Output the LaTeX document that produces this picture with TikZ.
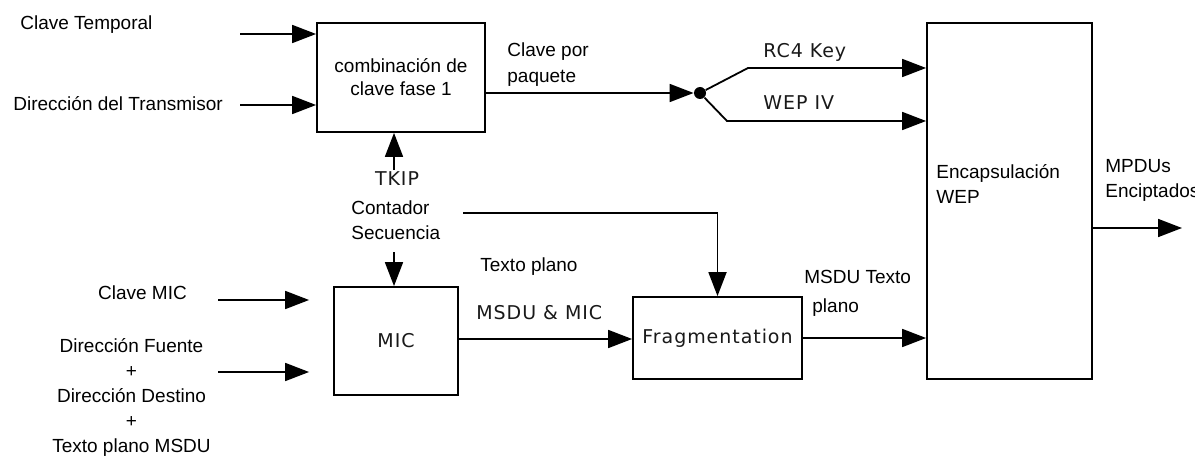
\documentclass[tikz,border=0pt]{standalone}
\usepackage{fontspec}
\setmainfont{Liberation Sans}
\newfontfamily\cajafont{DejaVu Sans}[LetterSpace=5]
\usetikzlibrary{arrows.meta}

\tikzset{
    flecha/.style={-{Triangle[length=12pt,width=9pt]}, line width=0.9pt},
    caja/.style={draw, line width=0.9pt, inner sep=0pt, align=center},
    rotulo/.style={inner sep=0pt, align=left, font=\fontsize{9.5}{12.5}\selectfont},
    rotulob/.style={inner sep=0pt, font=\fontsize{9.5}{12.5}\selectfont\cajafont, text=black!90}
}

\begin{document}
\begin{tikzpicture}[x=0.5pt, y=-0.5pt]
    \useasboundingbox (0,0) rectangle (1195,460);

    % Bloques
    \node[caja, minimum width=84pt, minimum height=54.5pt, font=\fontsize{9.5}{11.5}\selectfont]
        (comb) at (401,77.5) {combinación de\\clave fase 1};
    \node[caja, minimum width=82.5pt, minimum height=178pt] (wep) at (1009.5,201) {};
    \node[caja, minimum width=62pt, minimum height=54pt, font=\fontsize{9.5}{12}\selectfont\cajafont, text=black!90]
        (mic) at (396,341) {MIC};
    \node[caja, minimum width=84.5pt, minimum height=41pt, font=\fontsize{9.5}{12}\selectfont\cajafont, text=black!90]
        (frag) at (717.5,338) {Fragmentation};
    \node[circle, fill, minimum size=6pt, inner sep=0pt] (dot) at (700,93) {};

    % Puntos libres
    \coordinate (ct) at (240,34);
    \coordinate (dt) at (240,105);
    \coordinate (tkip) at (394,170);
    \coordinate (ctr) at (394,252);
    \coordinate (sec) at (463,213);
    \coordinate (cmic) at (218,300);
    \coordinate (dfd) at (218,372);
    \coordinate (rc4) at (748,68);
    \coordinate (iv) at (727,121);
    \coordinate (out) at (1182,228);

    % Conexiones
    \draw[flecha] (ct) -- (ct -| comb.west);
    \draw[flecha] (dt) -- (dt -| comb.west);
    \draw[flecha] (tkip) -- (tkip |- comb.south);
    \draw[flecha] (ctr) -- (ctr |- mic.north);
    \draw[flecha] (sec) -| (frag.north);
    \draw[flecha, shorten >=12pt] (cmic) -- (cmic -| mic.west);
    \draw[flecha, shorten >=12pt] (dfd) -- (dfd -| mic.west);
    \draw[flecha] (mic.east |- 0,339) -- (frag.west |- 0,339);
    \draw[flecha] (frag.east) -- (frag.east -| wep.west);
    \draw[flecha] (comb.east |- dot) -- (dot);
    \draw[flecha] (dot) -- (rc4) -- (rc4 -| wep.west);
    \draw[flecha] (dot) -- (iv) -- (iv -| wep.west);
    \draw[flecha] (out -| wep.east) -- (out);

    % Textos
    \node[rotulo, anchor=west] (lct) at (20,25) {Clave Temporal};
    \node[rotulo, anchor=west] (ldt) at (13,104) {Dirección del Transmisor};
    \node[rotulo, anchor=west, font=\fontsize{9.5}{13}\selectfont] (lcp) at (507,65) {Clave por\\paquete};
    \node[rotulob, anchor=west] (lrc4) at (763,52) {RC4 Key};
    \node[rotulob, anchor=west] (liv) at (763,103) {WEP IV};
    \node[rotulob] (ltkip) at (397,179) {TKIP};
    \node[rotulo, anchor=west] (lsec) at (351,220.5) {Contador\\Secuencia};
    \node[rotulo] (lcmic) at (142.5,293) {Clave MIC};
    \node[rotulo, align=center] (ldfd) at (131.5,397) {Dirección Fuente\\+\\Dirección Destino\\+\\Texto plano MSDU};
    \node[rotulo, anchor=west] (ltp) at (480,267) {Texto plano};
    \node[rotulob, anchor=west] (lmm) at (476,313) {MSDU \& MIC};
    \node[rotulo, anchor=west, font=\fontsize{9.5}{14.5}\selectfont] (lmtp) at (804,293.5) {MSDU Texto\\\hspace*{4pt}plano};
    \node[rotulo, anchor=west] (lwep) at (936,184.5) {Encapsulación\\WEP};
    \node[rotulo, anchor=west] (lmp) at (1105,180.5) {MPDUs\\Enciptados};
\end{tikzpicture}
\end{document}
